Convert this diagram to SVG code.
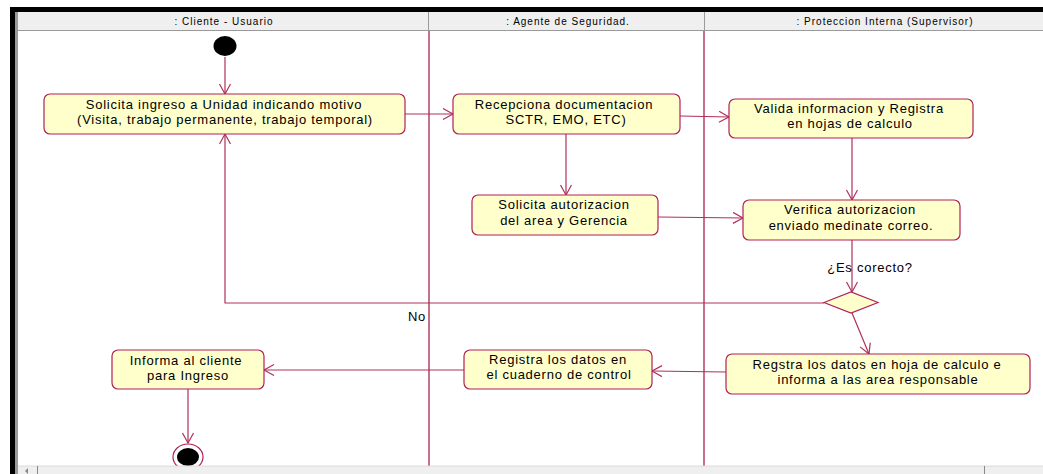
<svg xmlns="http://www.w3.org/2000/svg" width="1043" height="474" viewBox="0 0 1043 474">
<defs>
<marker id="arr" markerUnits="userSpaceOnUse" markerWidth="14" markerHeight="14" refX="11" refY="6" orient="auto">
<path d="M1,0.5 L11,6 L1,11.5" fill="none" stroke="#b0305a" stroke-width="1.2"/>
</marker>
<style>
.box{fill:#ffffcc;stroke:#b0205a;stroke-width:1.2}
.t{font-family:"Liberation Sans",Arial,sans-serif;font-size:13px;fill:#000;text-anchor:middle;letter-spacing:0.75px}
.h{font-family:"Liberation Sans",Arial,sans-serif;font-size:10px;fill:#000;text-anchor:middle;letter-spacing:1px}
.c{fill:none;stroke:#b0305a;stroke-width:1.2;marker-end:url(#arr)}
.lane{stroke:#a0103c;stroke-width:1.2}
</style>
</defs>
<rect x="0" y="0" width="1043" height="474" fill="#fff"/>
<!-- frame -->
<g id="frame">
<rect x="10" y="7" width="1033" height="5" fill="#000"/>
<rect x="10" y="7" width="5" height="467" fill="#000"/>
<rect x="15" y="12" width="3" height="462" fill="#9a9a9a"/>
<rect x="18" y="12" width="1025" height="18" fill="#efefef"/>
<line x1="18" y1="30.5" x2="1043" y2="30.5" stroke="#9a9a9a" stroke-width="1"/>
<line x1="428.5" y1="12" x2="428.5" y2="30" stroke="#9a9a9a" stroke-width="1"/>
<line x1="704.5" y1="12" x2="704.5" y2="30" stroke="#9a9a9a" stroke-width="1"/>
<text class="h" x="224" y="24.5">: Cliente - Usuario</text>
<text class="h" x="568" y="24.5">: Agente de Seguridad.</text>
<text class="h" x="885" y="24.5">: Proteccion Interna (Supervisor)</text>
<line class="lane" x1="429" y1="31" x2="429" y2="466"/>
<line class="lane" x1="704" y1="31" x2="704" y2="466"/>
</g>
<!-- connectors -->
<g id="connectors">
<path class="c" d="M225,57 V94"/>
<path class="c" d="M405,114 H453"/>
<path class="c" d="M680,116 L729,117"/>
<path class="c" d="M566,134 V195"/>
<path class="c" d="M852,138 V200"/>
<path class="c" d="M658,217 L743,218"/>
<path class="c" d="M852,240 V292"/>
<path class="c" d="M824,303 H225 V134"/>
<path class="c" d="M852,313 L869,354"/>
<path class="c" d="M726,372 L652,371"/>
<path class="c" d="M464,370 H264"/>
<path class="c" d="M188,389 V443"/>
<text class="t" x="417" y="321">No</text>
<text class="t" x="870" y="272">¿Es corecto?</text>
</g>
<!-- nodes -->
<g id="start"><ellipse cx="225" cy="46" rx="11.5" ry="10" fill="#000"/></g>
<g id="n1">
<rect class="box" x="44" y="94" width="361" height="40" rx="6"/>
<text class="t" x="224" y="109">Solicita ingreso a Unidad indicando motivo</text>
<text class="t" x="225" y="124">(Visita, trabajo permanente, trabajo temporal)</text>
</g>
<g id="n2">
<rect class="box" x="453" y="94" width="227" height="40" rx="6"/>
<text class="t" x="564" y="109">Recepciona documentacion</text>
<text class="t" x="566" y="124">SCTR, EMO, ETC)</text>
</g>
<g id="n3">
<rect class="box" x="729" y="99" width="244" height="39" rx="6"/>
<text class="t" x="849" y="113">Valida informacion y Registra</text>
<text class="t" x="850" y="128">en hojas de calculo</text>
</g>
<g id="n4">
<rect class="box" x="472" y="195" width="186" height="40" rx="6"/>
<text class="t" x="564" y="209">Solicita autorizacion</text>
<text class="t" x="564" y="225">del area y Gerencia</text>
</g>
<g id="n5">
<rect class="box" x="743" y="200" width="217" height="40" rx="6"/>
<text class="t" x="850" y="214">Verifica autorizacion</text>
<text class="t" x="851" y="230">enviado medinate correo.</text>
</g>
<g id="decision">
<polygon class="box" points="824,302.5 851,292 878,302.5 851,313"/>
</g>
<g id="n6">
<rect class="box" x="726" y="354" width="304" height="40" rx="6"/>
<text class="t" x="877" y="369">Regstra los datos en hoja de calculo e</text>
<text class="t" x="878" y="384">informa a las area responsable</text>
</g>
<g id="n7">
<rect class="box" x="464" y="350" width="188" height="39" rx="6"/>
<text class="t" x="558" y="364">Registra los datos en</text>
<text class="t" x="559" y="379">el cuaderno de control</text>
</g>
<g id="n8">
<rect class="box" x="112" y="350" width="152" height="39" rx="6"/>
<text class="t" x="186" y="365">Informa al cliente</text>
<text class="t" x="188" y="380">para Ingreso</text>
</g>
<g id="end">
<ellipse cx="188" cy="457" rx="15" ry="13" fill="#fff" stroke="#b0205a" stroke-width="1.2"/>
<ellipse cx="188" cy="457" rx="11" ry="9" fill="#000"/>
</g>
<!-- scrollbar -->
<g id="scrollbar">
<rect x="18" y="466" width="1025" height="8" fill="#efefef"/>
<line x1="18" y1="466" x2="1043" y2="466" stroke="#dcdcdc"/>
<line x1="37.5" y1="466" x2="37.5" y2="474" stroke="#888"/>
<path d="M25,471 L28,468 L28,474 Z" fill="#888"/>
<line x1="984.5" y1="466" x2="984.5" y2="474" stroke="#888"/>
</g>
</svg>
